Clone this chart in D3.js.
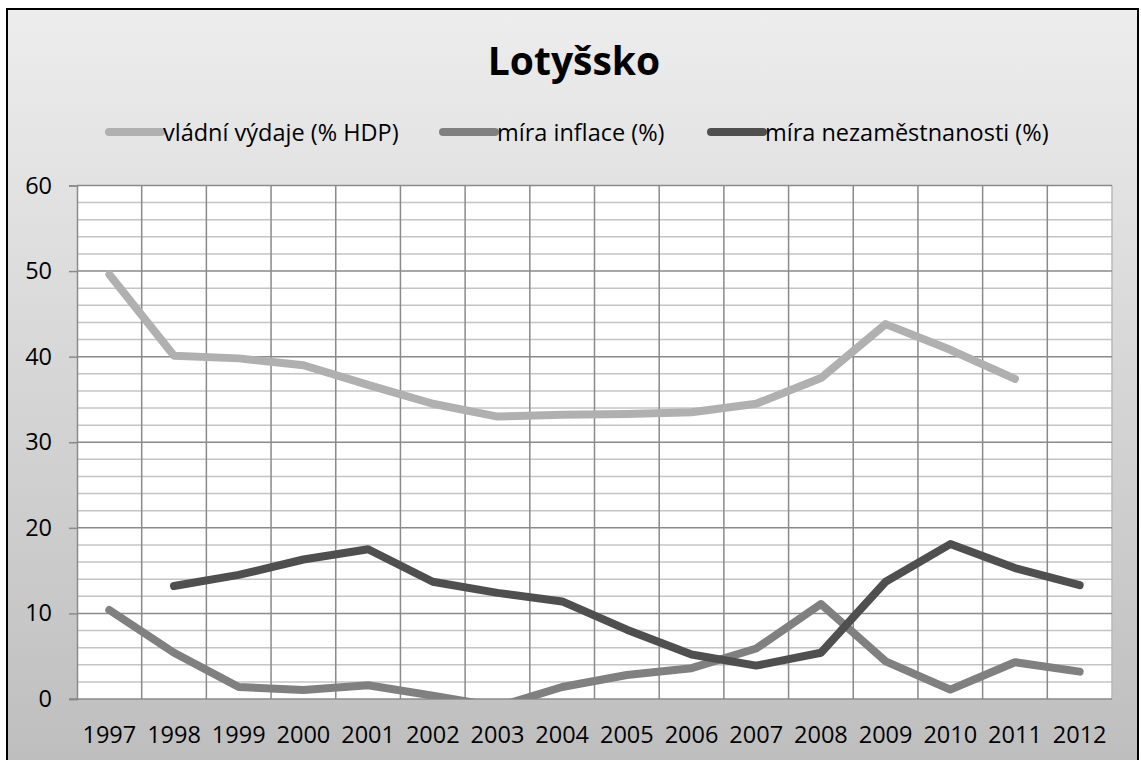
<!DOCTYPE html>
<html>
<head>
<meta charset="utf-8">
<script src="https://cdnjs.cloudflare.com/ajax/libs/d3/7.8.5/d3.min.js"></script>
<style>
  html, body { margin: 0; padding: 0; background: #ffffff; }
  svg { display: block; }
  text { font-family: "Open Sans", "Noto Sans", sans-serif; fill: #000; }
</style>
</head>
<body>
<svg id="chart" width="1141" height="760"></svg>
<script>
const title = "Lotyšsko";
const years = ["1997","1998","1999","2000","2001","2002","2003","2004","2005","2006","2007","2008","2009","2010","2011","2012"];
const seriesNames = ["vládní výdaje (% HDP)", "míra inflace (%)", "míra nezaměstnanosti (%)"];
const govSpending = [49.6, 40.1, 39.8, 39.0, 36.7, 34.5, 33.0, 33.2, 33.3, 33.5, 34.5, 37.5, 43.8, 40.8, 37.4, null];
const inflation   = [10.4, 5.4, 1.4, 1.05, 1.6, 0.4, -0.9, 1.4, 2.8, 3.6, 5.9, 11.1, 4.4, 1.1, 4.3, 3.2];
const unemployment= [null, 13.2, 14.5, 16.3, 17.5, 13.7, 12.4, 11.4, 8.1, 5.2, 3.9, 5.4, 13.7, 18.1, 15.3, 13.3];
const yTicks = [0, 10, 20, 30, 40, 50, 60];
const yMinor = [2,4,6,8,12,14,16,18,22,24,26,28,32,34,36,38,42,44,46,48,52,54,56,58];
const seriesColors = ["#b0b0b0", "#808080", "#4f4f4f"];

const svg = d3.select("#chart");

// background gradient
const defs = svg.append("defs");
const grad = defs.append("linearGradient").attr("id", "bg")
  .attr("x1", 0).attr("y1", 0).attr("x2", 0).attr("y2", 1);
grad.append("stop").attr("offset", "0%").attr("stop-color", "#ededed");
grad.append("stop").attr("offset", "100%").attr("stop-color", "#bdbdbd");

svg.append("rect").attr("x", 7).attr("y", 9).attr("width", 1131).attr("height", 770)
  .attr("fill", "url(#bg)").attr("stroke", "#000").attr("stroke-width", 2);

const plot = { left: 77, right: 1112, top: 185.5, bottom: 699 };

defs.append("clipPath").attr("id", "plotclip").append("rect")
  .attr("x", plot.left).attr("y", plot.top)
  .attr("width", plot.right - plot.left).attr("height", plot.bottom - plot.top);

const x = d3.scaleBand().domain(years).range([plot.left, plot.right]).padding(0);
const y = d3.scaleLinear().domain([0, 60]).range([plot.bottom, plot.top]);

// plot area
svg.append("rect").attr("x", plot.left).attr("y", plot.top)
  .attr("width", plot.right - plot.left).attr("height", plot.bottom - plot.top)
  .attr("fill", "#ffffff");

// minor gridlines
svg.append("g").selectAll("line").data(yMinor).join("line")
  .attr("x1", plot.left).attr("x2", plot.right)
  .attr("y1", d => y(d)).attr("y2", d => y(d))
  .attr("stroke", "#c4c4c4").attr("stroke-width", 1.5);

// vertical gridlines at band boundaries
const vb = years.map(d => x(d)).slice(1).concat([plot.right]);
svg.append("g").selectAll("line").data(vb).join("line")
  .attr("x1", d => d).attr("x2", d => d)
  .attr("y1", plot.top).attr("y2", plot.bottom)
  .attr("stroke", d => d === plot.right ? "#b8b8b8" : "#8a8a8a").attr("stroke-width", 1.5);

// major gridlines
svg.append("g").selectAll("line").data(yTicks.filter(d => d > 0)).join("line")
  .attr("x1", plot.left).attr("x2", plot.right)
  .attr("y1", d => y(d)).attr("y2", d => y(d))
  .attr("stroke", "#8a8a8a").attr("stroke-width", 1.5);

// y axis
const yAxis = d3.axisLeft(y).tickValues(yTicks).tickSize(8).tickPadding(17).tickFormat(d3.format("d"));
const gy = svg.append("g").attr("transform", `translate(${plot.left},0)`).call(yAxis);
gy.select(".domain").attr("stroke", "#8a8a8a").attr("stroke-width", 1.5);
gy.selectAll(".tick line").attr("stroke", "#8a8a8a").attr("stroke-width", 1.5);
gy.selectAll(".tick text").attr("font-size", 23.5).attr("font-family", "Open Sans").attr("fill", "#000");

// x axis
const xAxis = d3.axisBottom(x).tickSize(0).tickPadding(27);
const gx = svg.append("g").attr("transform", `translate(0,${plot.bottom})`).call(xAxis);
gx.select(".domain").attr("stroke", "#8a8a8a").attr("stroke-width", 1.5)
  .attr("d", `M${plot.left - 8},0H${plot.right}`);
gx.selectAll(".tick text").attr("font-size", 23.5).attr("font-family", "Open Sans").attr("fill", "#000");

// lines
const line = d3.line()
  .defined(d => d.v !== null)
  .x(d => x(d.year) + x.bandwidth() / 2)
  .y(d => y(d.v));

const allSeries = [govSpending, inflation, unemployment];
const lg = svg.append("g").attr("clip-path", "url(#plotclip)");
allSeries.forEach((vals, i) => {
  const data = years.map((yr, j) => ({ year: yr, v: vals[j] }));
  lg.append("path").datum(data)
    .attr("d", line)
    .attr("fill", "none")
    .attr("stroke", seriesColors[i])
    .attr("stroke-width", 8)
    .attr("stroke-linecap", "round")
    .attr("stroke-linejoin", "round");
});

// title
svg.append("text").attr("x", 574).attr("y", 75).attr("text-anchor", "middle")
  .attr("font-size", 39).attr("font-weight", "bold").text(title);

// legend
const legendX = [105, 439, 707];
const legendY = 132;
const leg = svg.append("g");
seriesNames.forEach((name, i) => {
  const g = leg.append("g");
  g.append("line")
    .attr("x1", legendX[i] + 4).attr("x2", legendX[i] + 56)
    .attr("y1", legendY).attr("y2", legendY)
    .attr("stroke", seriesColors[i]).attr("stroke-width", 8).attr("stroke-linecap", "round");
  g.append("text").attr("x", legendX[i] + 58).attr("y", legendY + 8.5)
    .attr("font-size", 23.5).text(name);
});
</script>
</body>
</html>
